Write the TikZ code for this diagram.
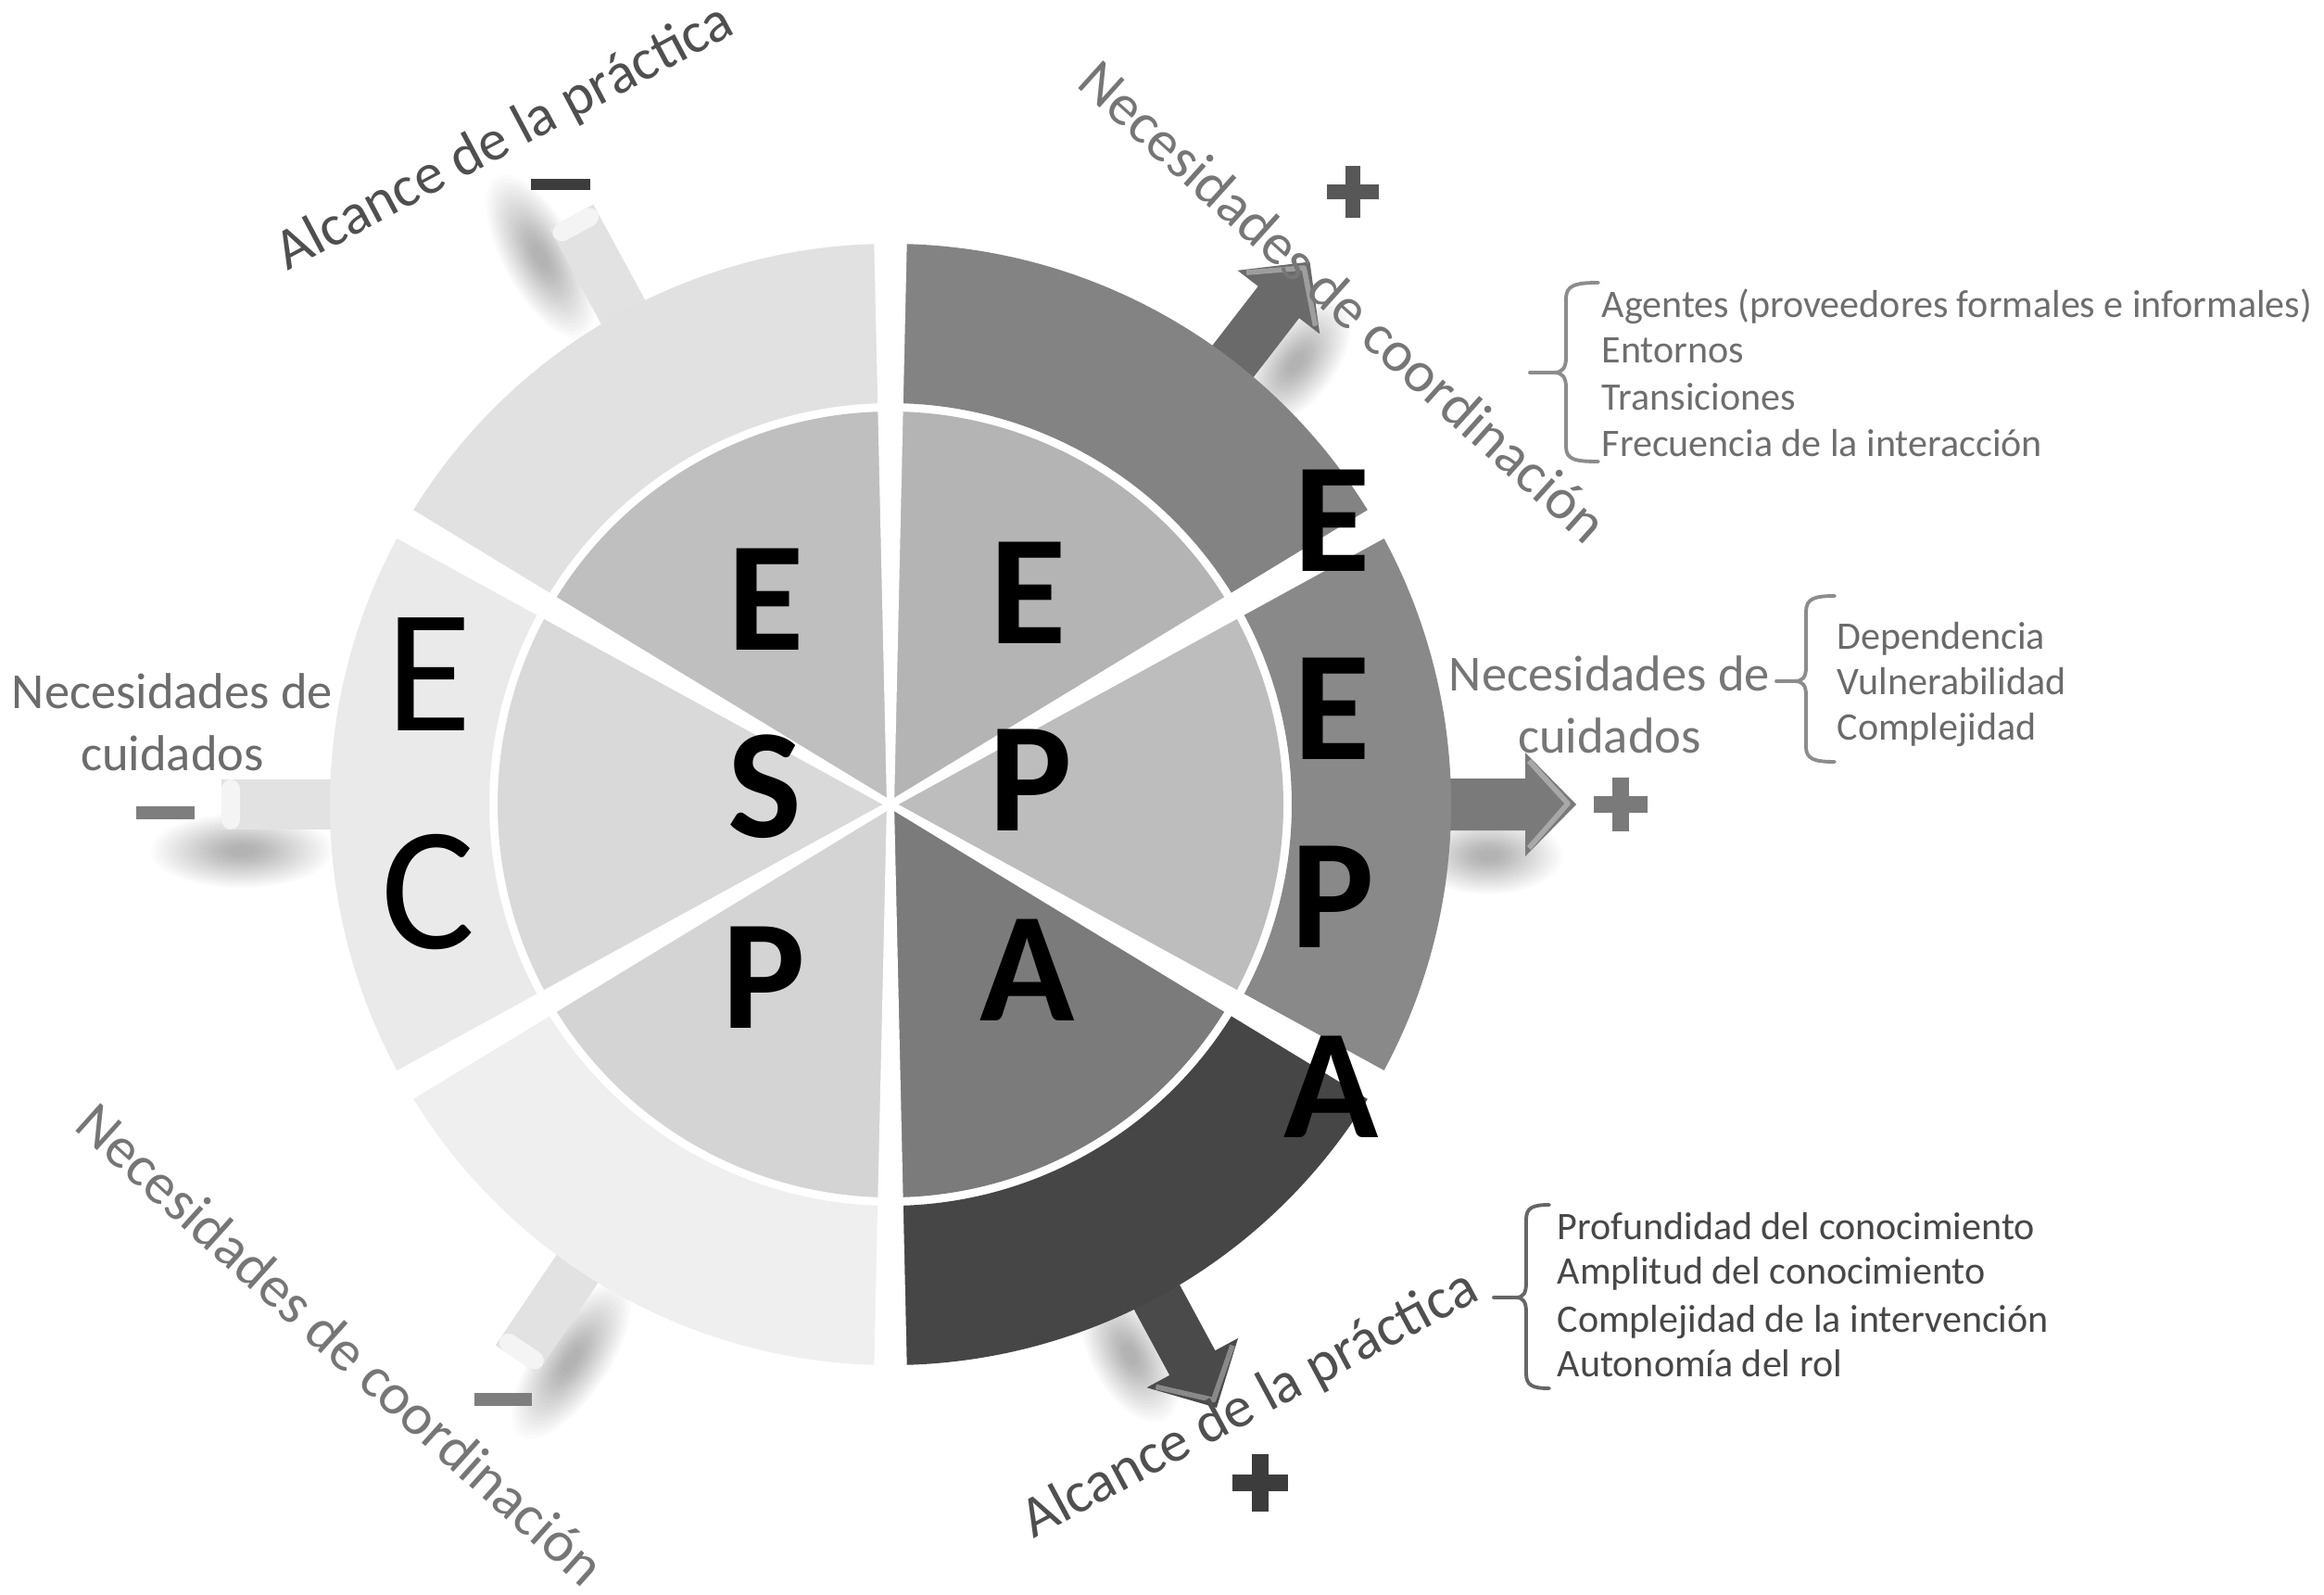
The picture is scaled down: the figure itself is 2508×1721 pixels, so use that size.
\documentclass[tikz,border=0pt]{standalone}
\usepackage{fontspec}
\setmainfont{Carlito}
\definecolor{cUR}{HTML}{838383}
\definecolor{cURi}{HTML}{B4B4B4}
\definecolor{cR}{HTML}{898989}
\definecolor{cRi}{HTML}{BDBDBD}
\definecolor{cLR}{HTML}{464646}
\definecolor{cLRi}{HTML}{7B7B7B}
\definecolor{cLL}{HTML}{EFEFEF}
\definecolor{cLLi}{HTML}{D4D4D4}
\definecolor{cL}{HTML}{EAEAEA}
\definecolor{cLi}{HTML}{D9D9D9}
\definecolor{cUL}{HTML}{E1E1E1}
\definecolor{cULi}{HTML}{BFBFBF}
\definecolor{arrUR}{HTML}{6A6A6A}
\definecolor{arrR}{HTML}{7A7A7A}
\definecolor{arrLR}{HTML}{4A4A4A}
\definecolor{stubbody}{HTML}{E2E2E2}
\definecolor{stubend}{HTML}{F4F4F4}
\definecolor{lblDark}{HTML}{4F4F4F}
\definecolor{lblLight}{HTML}{767676}
\definecolor{cuidL}{HTML}{6C6C6C}
\definecolor{cuidR}{HTML}{767676}
\definecolor{listA}{HTML}{6E6E6E}
\definecolor{listB}{HTML}{6A6A6A}
\definecolor{listC}{HTML}{474747}
\definecolor{braceA}{HTML}{8C8C8C}
\definecolor{braceC}{HTML}{666666}
\definecolor{signDark}{HTML}{3C3C3C}
\definecolor{signMid}{HTML}{575757}
\definecolor{signLight}{HTML}{7E7E7E}
\tikzset{
  letterB/.style={font=\fontsize{48}{48}\selectfont\bfseries, inner sep=0pt, text=black},
  letterR/.style={font=\fontsize{54}{54}\selectfont, inner sep=0pt, text=black},
  axislabel/.style={font=\fontsize{17.8}{20}\selectfont, inner sep=0pt},
  cuidlabel/.style={font=\fontsize{15.5}{19}\selectfont, inner sep=0pt, align=center},
  listitem/.style={font=\fontsize{11.95}{14}\selectfont, inner sep=0pt, anchor=base west},
  bracepath/.style={line width=1.1pt, line cap=round, line join=round},
  signbar/.style={line width=4.6pt},
}
\newcommand{\mkring}[5]{%
  \fill[#5] (#1:#3) arc[start angle=#1, end angle=#2, radius=#3] -- (#2:#4) arc[start angle=#2, end angle=#1, radius=#4] -- cycle;}
\newcommand{\mkpie}[4]{%
  \fill[#4] (0,0) -- (#1:#3) arc[start angle=#1, end angle=#2, radius=#3] -- cycle;}
\newcommand{\mkshadow}[5]{%
  \begin{scope}[rotate=#1]
    \foreach \k in {0,...,19}{%
      \fill[black, opacity=0.017] (#2,#3) ellipse [x radius={#4*(1-0.045*\k)}, y radius={#5*(1-0.045*\k)}];}
  \end{scope}}
\newcommand{\mkplusarrow}[2]{%
  \begin{scope}[rotate=#1]
    \fill[#2] (560,-28) -- (685,-28) -- (685,-56) -- (740,0) -- (685,56) -- (685,28) -- (560,28) -- cycle;
    \draw[white, opacity=0.35, line width=1.6pt, line join=round] (689,47) -- (731,1) -- (689,-47);
  \end{scope}}
\newcommand{\mkminusstub}[1]{%
  \begin{scope}[rotate=#1]
    \fill[stubbody] (560,-27) rectangle (722,27);
    \fill[stubend, rounded corners=3pt] (702,-27) rectangle (722,27);
  \end{scope}}
\begin{document}
\begin{tikzpicture}[x=0.01cm, y=-0.01cm]
\useasboundingbox (0,0) rectangle (2508,1721);
\fill[white] (0,0) rectangle (2508,1721);

% ---------- wheel (local frame, y up) ----------
\begin{scope}[shift={(961,868)}, y=0.01cm]
  % soft shadows
  \mkshadow{52.3}{645}{-55}{80}{42}
  \mkshadow{0}{645}{-55}{80}{42}
  \mkshadow{-61.6}{645}{-55}{80}{42}
  \mkshadow{118.5}{700}{50}{98}{40}
  \mkshadow{180}{700}{50}{98}{40}
  \mkshadow{236}{690}{50}{98}{40}
  % arrows
  \mkplusarrow{52.3}{arrUR}
  \mkplusarrow{0}{arrR}
  \mkplusarrow{-61.6}{arrLR}
  \mkminusstub{118.5}
  \mkminusstub{180}
  \mkminusstub{236}
  % outer ring
  \mkring{30}{90}{433}{605}{cUR}
  \mkring{-30}{30}{433}{605}{cR}
  \mkring{-90}{-30}{433}{605}{cLR}
  \mkring{210}{270}{433}{605}{cLL}
  \mkring{150}{210}{433}{605}{cL}
  \mkring{90}{150}{433}{605}{cUL}
  % inner pie
  \mkpie{30}{90}{424}{cURi}
  \mkpie{-30}{30}{424}{cRi}
  \mkpie{-90}{-30}{424}{cLRi}
  \mkpie{210}{270}{424}{cLLi}
  \mkpie{150}{210}{424}{cLi}
  \mkpie{90}{150}{424}{cULi}
  % white gaps
  \foreach \a in {30,90,150,210,270,330}{%
    \fill[white] (\a+90:4) -- (\a+1.65:650) -- (\a-1.65:650) -- (\a-90:4) -- cycle;}
\end{scope}

% ---------- letters ----------
\node[letterB] (e1) at (827,647) {E};
\node[letterB] (s1) at (825,849) {S};
\node[letterB] (p1) at (824,1055) {P};
\node[letterB] (e2) at (1110,640) {E};
\node[letterB] (p2) at (1112,842) {P};
\node[letterB] (a2) at (1109,1047) {A};
\node[letterR] (e3) at (463,728) {E};
\node[letterR] (c3) at (462,963) {C};
\node[letterB] (e4) at (1438,562) {E};
\node[letterB] (e5) at (1438,765) {E};
\node[letterB] (p5) at (1438,968) {P};
\node[letterB] (a5) at (1437,1173) {A};

% ---------- axis labels ----------
\node[axislabel, text=lblDark, rotate=28, anchor=base] (alc1) at (553,164) {Alcance de la práctica};
\node[axislabel, text=lblDark, rotate=28.2, anchor=base] (alc2) at (1357,1531) {Alcance de la práctica};
\node[axislabel, text=lblLight, rotate=-42] (coo1) at (1450,325) {Necesidades de coordinación};
\node[axislabel, text=lblLight, rotate=-42] (coo2) at (368,1450) {Necesidades de coordinación};
\node[cuidlabel, text=cuidL] (cui1) at (186,779) {Necesidades de\\cuidados};
\node[cuidlabel, text=cuidR] (cui2) at (1737,760) {Necesidades de\\cuidados};

% ---------- lists ----------
\node[listitem, text=listA] (ag) at (1728,342) {Agentes (proveedores formales e informales)};
\node[listitem, text=listA] (en) at (1728,391) {Entornos};
\node[listitem, text=listA] (tr) at (1728,442) {Transiciones};
\node[listitem, text=listA] (fr) at (1728,492) {Frecuencia de la interacción};
\node[listitem, text=listB] (de) at (1982,700) {Dependencia};
\node[listitem, text=listB] (vu) at (1982,749) {Vulnerabilidad};
\node[listitem, text=listB] (co) at (1982,798) {Complejidad};
\node[listitem, text=listC] (pr) at (1680,1337) {Profundidad del conocimiento};
\node[listitem, text=listC] (am) at (1680,1385) {Amplitud del conocimiento};
\node[listitem, text=listC] (ci) at (1680,1437) {Complejidad de la intervención};
\node[listitem, text=listC] (au) at (1680,1485) {Autonomía del rol};

% ---------- braces ----------
\coordinate (tipA) at (1677,402);
\coordinate (tailA) at (1651,402);
\draw[bracepath, draw=braceA] (1725,305) .. controls (1700,305) and (1690,308) .. (1690,322) -- (1690,386) .. controls (1690,397) and (1686,402) .. (tipA) .. controls (1686,402) and (1690,407) .. (1690,418) -- (1690,482) .. controls (1690,496) and (1700,498) .. (1725,498);
\draw[bracepath, draw=braceA] (tailA) -- (tipA);

\coordinate (tipB) at (1937,735);
\coordinate (tailB) at (1917,735);
\draw[bracepath, draw=braceA] (1980,643) .. controls (1958,643) and (1949,646) .. (1949,660) -- (1949,720) .. controls (1949,731) and (1945,735) .. (tipB) .. controls (1945,735) and (1949,739) .. (1949,750) -- (1949,806) .. controls (1949,819) and (1958,822) .. (1980,822);
\draw[bracepath, draw=braceA] (tailB) -- (tipB);

\coordinate (tipC) at (1636,1400);
\coordinate (tailC) at (1612,1400);
\draw[bracepath, draw=braceC] (1672,1300) .. controls (1654,1300) and (1647,1303) .. (1647,1316) -- (1647,1384) .. controls (1647,1395) and (1644,1400) .. (tipC) .. controls (1644,1400) and (1647,1405) .. (1647,1416) -- (1647,1482) .. controls (1647,1495) and (1654,1498) .. (1672,1498);
\draw[bracepath, draw=braceC] (tailC) -- (tipC);

% ---------- plus / minus signs ----------
\draw[signbar, draw=signMid] (1432,207) -- (1488,207) (1460,179) -- (1460,235);
\draw[signbar, draw=arrR, line width=5.1pt] (1720,868) -- (1778,868) (1749,839) -- (1749,897);
\draw[signbar, draw=signDark, line width=5.1pt] (1330,1600) -- (1390,1600) (1360,1569) -- (1360,1631);
\draw[signbar, draw=signDark, line width=3.5pt] (573,199) -- (637,199);
\draw[signbar, draw=signLight, line width=3.8pt] (147,877) -- (210,877);
\draw[signbar, draw=signLight, line width=4pt] (512,1510) -- (574,1510);
\end{tikzpicture}
\end{document}
